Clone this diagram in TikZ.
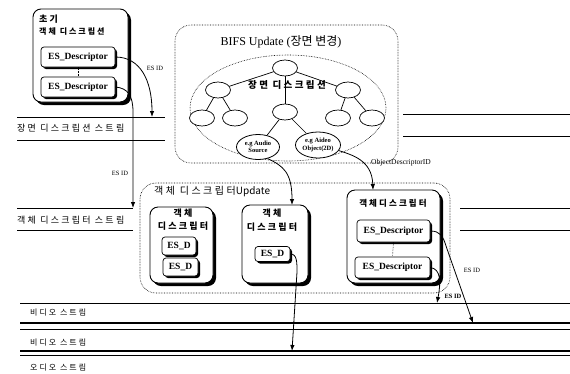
\documentclass[tikz,border=0pt]{standalone}
\usepackage{fontspec}
\setmainfont{Liberation Serif}
\newfontfamily\kr{Noto Sans CJK KR}
\newfontfamily\krs[LetterSpace=25]{Noto Sans CJK KR}
\usetikzlibrary{shadows,arrows.meta,shapes.geometric}
\tikzset{
  shbox/.style={draw, line width=0.9pt, rounded corners=8pt, fill=white,
    drop shadow={shadow xshift=3pt, shadow yshift=-3pt, opacity=1, fill=black}},
  esbox/.style={draw, line width=0.7pt, rounded corners=3pt, fill=white,
    drop shadow={shadow xshift=2pt, shadow yshift=-2pt, opacity=1, fill=black},
    font=\bfseries\fontsize{9.5}{10}\selectfont, inner sep=1pt},
  dotbox/.style={draw, densely dotted, line width=0.6pt, rounded corners=16pt},
  leaf/.style={draw, ellipse, line width=0.7pt, minimum width=25pt, minimum height=16pt, inner sep=0pt, fill=white},
  egnode/.style={draw, ellipse, line width=0.8pt, inner sep=0pt, fill=white, align=center,
    font=\bfseries\fontsize{6.5}{7.5}\selectfont},
  arr/.style={-{Latex[length=6pt,width=4.5pt]}, line width=0.8pt},
  link/.style={line width=0.7pt},
  stream/.style={line width=0.8pt},
  thstream/.style={line width=1.4pt},
  slabel/.style={anchor=west, inner sep=0pt, font=\krs\fontsize{9}{10}\selectfont},
  vlabel/.style={anchor=west, inner sep=0pt, font=\krs\fontsize{8}{9}\selectfont},
  title/.style={inner sep=0pt, font=\krs\bfseries\fontsize{9}{10}\selectfont},
  idlabel/.style={inner sep=0pt, font=\fontsize{6.5}{7}\selectfont}
}
\begin{document}
\begin{tikzpicture}[x=1pt,y=-1pt]
\useasboundingbox (0,0) rectangle (570,373);

% ---------- stream lines ----------
\draw[stream] (17,117) -- (165,117);
\draw[stream] (17,140) -- (165,140);
\draw[stream] (403,114) -- (570,114);
\draw[stream] (403,136) -- (570,136);
\node[slabel] (lscene) at (17,128) {장면 디스크립션 스트림};

\draw[stream] (17,208) -- (133,208);
\draw[stream] (17,230) -- (133,230);
\draw[stream] (460,208) -- (570,208);
\draw[stream] (460,230) -- (570,230);
\node[slabel] (lod) at (17,220) {객체 디스크립터 스트림};

\draw[stream] (20,303) -- (570,303);
\draw[thstream] (20,323) -- (570,323);
\draw[stream] (20,329) -- (570,329);
\draw[thstream] (20,351) -- (570,351);
\draw[stream] (20,355.5) -- (570,355.5);
\node[vlabel] (lv1) at (30,313) {비디오 스트림};
\node[vlabel] (lv2) at (30,342) {비디오 스트림};
\node[vlabel] (la) at (30,367) {오디오 스트림};

% ---------- initial object descriptor ----------
\node[shbox, minimum width=95pt, minimum height=93pt] (init) at (80.5,55.5) {};
\node[title, anchor=west] (it1) at (39,19) {초기};
\node[title, anchor=west, font=\krs\bfseries\fontsize{8}{9}\selectfont] (it2) at (39,32) {객체 디스크립션};
\node[esbox, minimum width=74pt, minimum height=20pt] (es1) at (78,57) {ES\_Descriptor};
\node[esbox, minimum width=74pt, minimum height=20pt] (es2) at (78,87) {ES\_Descriptor};
\draw[densely dotted, line width=0.6pt] (es1.south) -- (es2.north);

% ---------- BIFS update ----------
\node[dotbox, minimum width=223pt, minimum height=138pt] (bifs) at (286.5,94) {};
\node[inner sep=0pt, font=\fontsize{12}{13}\selectfont] (bt) at (281,42) {BIFS Update ({\kr 장면 변경})};
\node[draw, densely dotted, ellipse, line width=0.6pt, minimum width=196pt, minimum height=106pt] (scene) at (288,108) {};
\node[inner sep=0pt, font=\krs\bfseries\fontsize{9.5}{10}\selectfont] (st) at (287,85) {장면 디스크립션};

\node[leaf] (root) at (285,68) {};
\node[leaf] (lc) at (218,90) {};
\node[leaf] (mc) at (285,112) {};
\node[leaf] (rc) at (348,90) {};
\node[leaf] (ll) at (202,118) {};
\node[leaf] (lr) at (235,118) {};
\node[leaf] (rl) at (338,118) {};
\node[leaf] (rr) at (372,118) {};
\node[egnode, minimum width=43pt, minimum height=25pt] (ea) at (258,147) {e.g Audio\\Source};
\node[egnode, minimum width=45pt, minimum height=26pt] (ev) at (318,145) {e.g Aideo\\Object(2D)};
\draw[link] (root) -- (lc);
\draw[link] (root) -- (rc);
\draw[link] (root) -- (mc);
\draw[link] (lc) -- (ll);
\draw[link] (lc) -- (lr);
\draw[link] (rc) -- (rl);
\draw[link] (rc) -- (rr);
\draw[link] (mc) -- (ea);
\draw[link] (mc) -- (ev);

% ---------- object descriptor update ----------
\node[dotbox, minimum width=310pt, minimum height=110pt] (odu) at (295,238) {};
\node[inner sep=0pt, anchor=west, font=\krs\fontsize{10}{11}\selectfont] (odt) at (154,192) {객체 디스크립터{\kr Update}};

\node[shbox, minimum width=63pt, minimum height=76pt] (lbox) at (181.5,245) {};
\node[title] (lt1) at (183,213) {객체};
\node[title] (lt2) at (183,226) {디스크립터};
\node[esbox, minimum width=34pt, minimum height=18pt] (ld1) at (179,246) {ES\_D};
\node[esbox, minimum width=35pt, minimum height=18pt] (ld2) at (180.5,267) {ES\_D};

\node[shbox, minimum width=66pt, minimum height=78pt] (mbox) at (275,244) {};
\node[title] (mt1) at (272,213) {객체};
\node[title] (mt2) at (272,227) {디스크립터};
\node[esbox, minimum width=35pt, minimum height=15pt] (md) at (272.5,254) {ES\_D};

\node[shbox, minimum width=93pt, minimum height=93pt] (rbox) at (393.5,236.5) {};
\node[title, font=\krs\bfseries\fontsize{8.5}{9}\selectfont] (rt) at (393,203) {객체디스크립터};
\node[esbox, minimum width=73pt, minimum height=22pt] (rd1) at (393.5,231) {ES\_Descriptor};
\node[esbox, minimum width=75pt, minimum height=21pt] (rd2) at (392.5,267.5) {ES\_Descriptor};
\draw[densely dotted, line width=0.6pt] (rd1.south) -- (rd2.north);

% ---------- arrows ----------
\coordinate (e1) at (152,117);
\coordinate (e2) at (133,208);
\coordinate (e3) at (292,205);
\coordinate (e4) at (373,190);
\coordinate (e5) at (292,351);
\coordinate (e6) at (473,323);
\coordinate (e7) at (437,303);

\draw[arr] (es1.east) .. controls (140,57) and (152,80) .. (e1);
\draw[arr] (es2.east) .. controls (128,88) and (133,96) .. (133,112) -- (e2);
\draw[arr] (ea.-50) .. controls (283,166) and (292,172) .. (e3);
\draw[arr] (ev.-15) .. controls (352,155) and (372,160) .. (e4);
\draw[arr] (md.east) .. controls (297,254) and (297,262) .. (297,272) -- (e5);
\draw[arr] (rd1.east) .. controls (440,231) and (443,236) .. (446,246) -- (e6);
\draw[arr] (rd2.east) .. controls (441,269) and (441,282) .. (e7);

\node[idlabel] (id1) at (155,68) {ES ID};
\node[idlabel] (id2) at (120,173) {ES ID};
\node[idlabel, anchor=west, font=\fontsize{7.5}{8}\selectfont] (odid) at (371,163) {ObjectDescriptorID};
\node[idlabel] (id3) at (472,270) {ES ID};
\node[idlabel, font=\bfseries\fontsize{6.5}{7}\selectfont] (id4) at (453,296) {ES ID};
\end{tikzpicture}
\end{document}
